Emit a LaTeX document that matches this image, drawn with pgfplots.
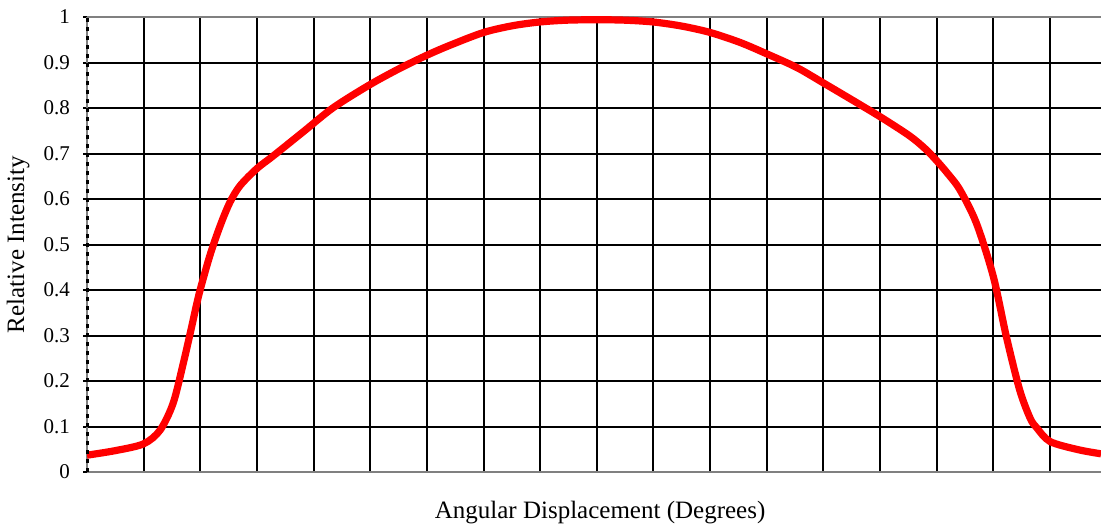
\documentclass[border=0pt]{standalone}
\usepackage{fontspec}
\setmainfont{Liberation Serif}
\usepackage{pgfplots}
\pgfplotsset{compat=1.18}

\begin{document}
\begin{tikzpicture}
\begin{axis}[
  scale only axis,
  width=507pt, height=227.5pt,
  xmin=-90, xmax=89, ymin=0, ymax=1,
  axis y line*=left,
  axis line style={gray, line width=1pt},
  xtick={-80,-70,...,80}, xticklabels={},
  xtick style={draw=none},
  ytick={0,0.1,0.2,0.3,0.4,0.5,0.6,0.7,0.8,0.9,1},
  yticklabels={0,0.1,0.2,0.3,0.4,0.5,0.6,0.7,0.8,0.9,1},
  ytick style={black, line width=1pt},
  tick align=outside, major tick length=2pt,
  /pgf/number format/assume math mode=true,
  yticklabel style={font=\fontsize{10.5}{12}\selectfont, xshift=-3pt},
  grid=major, grid style={black, line width=1pt},
  xlabel={Angular Displacement (Degrees)},
  ylabel={Relative Intensity},
  label style={font=\fontsize{12.5}{14}\selectfont},
  xlabel style={at={(axis description cs:0.506,0)}, anchor=center, yshift=-20.5pt},
  ylabel style={at={(axis description cs:-0.068,0.5)}, anchor=center},
  clip=false,
]
\addplot[red, line width=3.6pt, smooth] coordinates {
  (-90,0.037) (-85,0.047) (-80,0.062) (-77.1,0.092) (-74.8,0.151)
  (-73.0,0.239) (-71.6,0.315) (-70.2,0.392) (-68.3,0.476) (-66.5,0.541)
  (-64.8,0.592) (-63.0,0.629) (-60.0,0.667) (-57.1,0.695) (-51.8,0.748)
  (-46.5,0.801) (-40.1,0.851) (-34.8,0.887) (-30.0,0.916) (-25.9,0.938)
  (-20.0,0.966) (-14.8,0.981) (-10.1,0.989) (-5.3,0.993) (0,0.994)
  (5,0.993) (10,0.989) (15,0.980) (20,0.966) (25.3,0.944) (30,0.919)
  (35.3,0.889) (40,0.855) (45.3,0.816) (50.5,0.777) (55.3,0.738)
  (58,0.71) (60,0.684) (62,0.655) (64.1,0.62) (67,0.547) (70,0.429)
  (72.3,0.297) (74.65,0.18) (76.5,0.118) (77.6,0.098) (80,0.067)
  (85,0.049) (89,0.040)
};
% dashed look of the value axis
\draw[black, line width=1.5pt, dash pattern=on 2pt off 2.5pt]
  (rel axis cs:0,0) -- (rel axis cs:0,1);
\coordinate (sw) at (rel axis cs:0,0);
\coordinate (ne) at (rel axis cs:1,1);
\end{axis}
\pgfresetboundingbox
\path[use as bounding box] ([xshift=-43.5pt,yshift=-27pt]sw) rectangle ([yshift=8.5pt]ne);
\end{tikzpicture}
\end{document}
